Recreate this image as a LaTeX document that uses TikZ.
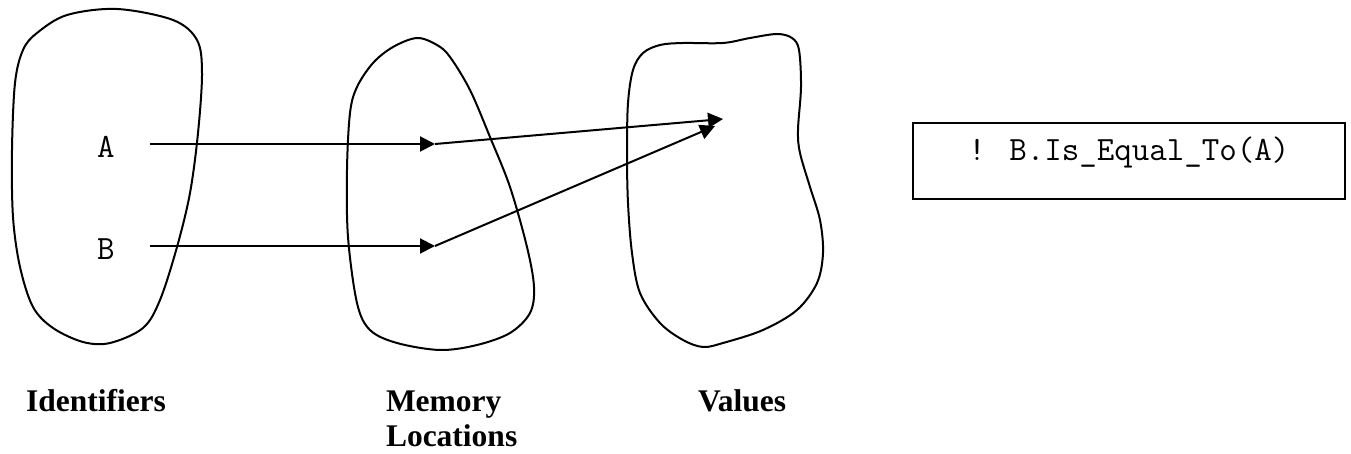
\documentclass[tikz,border=0pt]{standalone}
\usepackage{fontspec}
\setmainfont{Liberation Serif}
\usetikzlibrary{arrows.meta}

\begin{document}
\begin{tikzpicture}[x=0.5pt, y=-0.5pt, line width=1pt,
    >={Triangle[length=7.5pt, width=7.5pt]},
    blob/.style={line width=1pt, smooth cycle, tension=0.55},
    ident/.style={font=\ttfamily\fontsize{17}{19}\selectfont, inner sep=0pt},
    setname/.style={font=\bfseries\fontsize{15.75}{17.5}\selectfont, inner sep=0pt, anchor=base west, align=left},
    cmdbox/.style={draw, font=\ttfamily\fontsize{17}{19}\selectfont, minimum width=216pt, minimum height=38pt, text height=11pt, text depth=11.5pt, inner sep=0pt}]
    \useasboundingbox (0,0) rectangle (1351,454);

    % Sets
    \draw plot[blob] coordinates {(117,9) (173,20) (197,40) (202,73) (198,133) (190,193) (177,247) (160,300) (143,328) (110,343) (83,342) (53,328) (33,307) (20,267) (13,217) (12,150) (15,83) (23,50) (37,33) (67,15)};
    \draw plot[blob] coordinates {(417,38) (437,45) (450,57) (470,90) (490,137) (510,187) (527,247) (534,287) (530,313) (510,333) (477,345) (440,350) (397,343) (370,330) (357,303) (348,237) (347,170) (350,113) (357,87) (373,63) (393,47)};
    \draw plot[blob] coordinates {(660,45) (683,43) (723,43) (750,38) (777,34) (792,38) (799,50) (801,87) (798,130) (800,153) (810,187) (820,220) (823,253) (817,283) (797,310) (763,330) (723,343) (703,347) (683,340) (660,323) (640,293) (632,253) (628,203) (627,153) (628,103) (633,70) (643,53)};

    % Identifiers
    \node[ident] (A) at (106,147) {A};
    \node[ident] (B) at (106,249) {B};

    % Memory locations and values
    \coordinate (mA) at (435,144);
    \coordinate (mB) at (435,246);
    \coordinate (vA) at (723,119);
    \coordinate (vB) at (715,126);

    % Connections
    \draw[->, shorten <=17pt] (A.east |- mA) -- (mA);
    \draw[->, shorten <=17pt] (B.east |- mB) -- (mB);
    \draw[->] (mA) -- (vA);
    \draw[->] (mB) -- (vB);

    % Captions
    \node[setname] (ids) at (25,412) {Identifiers};
    \node[setname] (mem) at (385,447) {Memory\\Locations};
    \node[setname] (vals) at (697,412) {Values};

    % Assertion
    \node[cmdbox] (cmd) at (1129,161) {! B.Is\_Equal\_To(A)};
\end{tikzpicture}
\end{document}
